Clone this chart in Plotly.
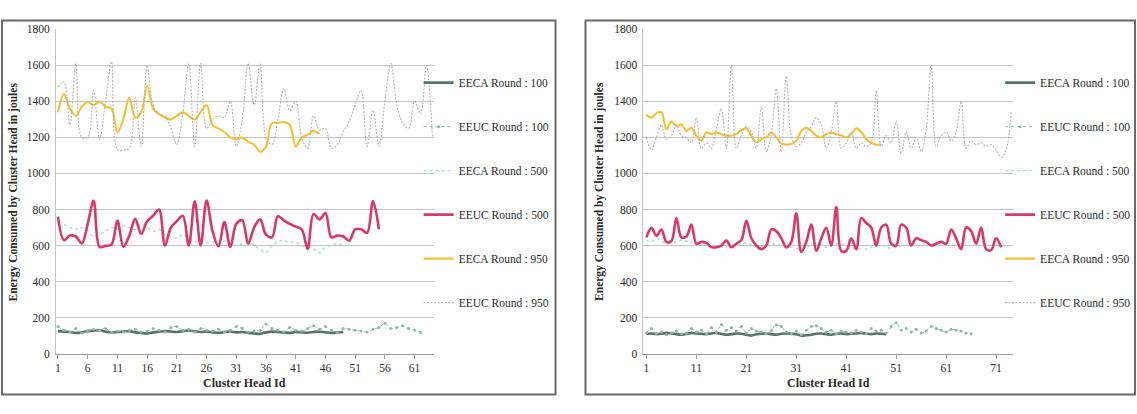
import plotly.graph_objects as go

# ---------------- data ----------------
series_names = ["EECA Round : 100", "EEUC Round : 100", "EECA Round : 500",
                "EEUC Round : 500", "EECA Round : 950", "EEUC Round : 950"]

# Left chart
left_eeca_100 = [125, 122, 120, 115, 118, 125, 128, 130, 122, 118, 120, 123, 125, 118, 115, 112,
                 118, 122, 125, 123, 120, 125, 128, 124, 120, 122, 118, 115, 120, 123, 118, 120,
                 115, 112, 110, 118, 122, 120, 118, 115, 120, 118, 116, 120, 122, 118, 115, 118, 120]
left_eeuc_100 = [150, 130, 120, 140, 115, 125, 135, 130, 140, 118, 125, 120, 130, 135, 120, 125,
                 140, 130, 120, 145, 150, 130, 135, 120, 140, 130, 125, 135, 120, 130, 150, 140,
                 120, 125, 130, 165, 140, 130, 120, 145, 130, 125, 140, 155, 135, 150, 130, 120,
                 140, 135, 130, 125, 120, 135, 145, 168, 140, 145, 155, 140, 130, 118]
left_eeca_500 = [720, 715, 700, 690, 700, 680, 650, 660, 680, 700, 690, 710, 700, 690, 720, 700,
                 680, 690, 660, 650, 640, 660, 640, 620, 630, 615, 620, 610, 625, 605, 600, 610,
                 620, 600, 580, 560, 600, 620, 630, 615, 620, 600, 590, 580, 560, 590, 600, 610, 600]
left_eeuc_500 = [760, 630, 655, 650, 612, 720, 848, 592, 598, 605, 738, 593, 655, 748, 665, 735,
                 765, 800, 600, 700, 735, 765, 600, 845, 600, 850, 680, 595, 730, 592, 720, 740,
                 610, 700, 745, 660, 645, 762, 740, 720, 705, 690, 582, 775, 745, 780, 645, 655,
                 650, 627, 690, 690, 670, 845, 690]
left_eeca_950 = [1340, 1440, 1360, 1320, 1370, 1395, 1380, 1400, 1370, 1360, 1230, 1300, 1420, 1310,
                 1340, 1485, 1360, 1330, 1310, 1300, 1320, 1340, 1320, 1300, 1340, 1380, 1270, 1250,
                 1230, 1200, 1190, 1200, 1175, 1160, 1120, 1150, 1280, 1280, 1285, 1270, 1150, 1200,
                 1215, 1235, 1220]
left_eeuc_950 = [1480, 1510, 1270, 1610, 1200, 1200, 1460, 1190, 1400, 1620, 1130, 1130, 1140, 1420,
                 1150, 1600, 1380, 1330, 1320, 1250, 1160, 1330, 1610, 1150, 1610, 1250, 1300, 1320,
                 1310, 1400, 1150, 1300, 1610, 1380, 1610, 1200, 1160, 1300, 1470, 1350, 1400, 1200,
                 1140, 1320, 1240, 1250, 1140, 1160, 1230, 1290, 1380, 1460, 1150, 1350, 1150, 1400,
                 1610, 1380, 1280, 1250, 1400, 1330, 1600, 1200]

# Right chart
right_eeca_100 = [110, 112, 108, 110, 115, 112, 108, 105, 110, 115, 112, 110, 108, 112, 115, 110,
                  105, 108, 112, 110, 105, 100, 108, 110, 112, 108, 105, 110, 112, 110, 108, 100,
                  102, 105, 110, 112, 108, 105, 110, 112, 108, 110, 112, 115, 110, 108, 112, 110, 108]
right_eeuc_100 = [115, 140, 110, 120, 105, 115, 125, 110, 115, 140, 120, 130, 110, 145, 120, 162,
                  130, 145, 125, 150, 115, 140, 125, 120, 110, 130, 160, 150, 120, 110, 125, 105,
                  130, 150, 155, 140, 120, 130, 110, 125, 120, 115, 130, 120, 110, 140, 125, 130,
                  115, 150, 172, 130, 140, 120, 135, 115, 125, 150, 140, 130, 120, 135, 130, 125,
                  115, 110]
right_eeca_500 = [630, 620, 640, 625, 610, 615, 620, 630, 625, 615, 610, 605, 600, 600, 595, 590,
                  600, 605, 600, 610, 615, 605, 600, 595, 600, 610, 605, 600, 590, 590, 585, 580,
                  590, 600, 610, 600, 590, 600, 610, 605, 600, 590, 580, 585, 580, 590, 595, 600,
                  590, 585, 590, 600]
right_eeuc_500 = [645, 698, 654, 689, 620, 625, 752, 645, 650, 716, 609, 620, 615, 591, 590, 600,
                  627, 590, 610, 630, 737, 640, 600, 580, 600, 690, 680, 640, 590, 620, 779, 564,
                  620, 716, 570, 640, 698, 600, 814, 570, 570, 640, 580, 752, 725, 700, 600, 700,
                  716, 610, 600, 716, 700, 600, 640, 630, 620, 600, 610, 620, 610, 689, 640, 580,
                  700, 680, 610, 700, 580, 575, 640, 590]
right_eeca_950 = [1326, 1310, 1335, 1340, 1245, 1290, 1263, 1272, 1236, 1254, 1210, 1182, 1227, 1218,
                  1227, 1218, 1210, 1209, 1220, 1240, 1250, 1209, 1173, 1190, 1200, 1227, 1200, 1165,
                  1160, 1164, 1182, 1236, 1254, 1236, 1210, 1200, 1218, 1227, 1218, 1210, 1200, 1218,
                  1250, 1230, 1190, 1170, 1160, 1160]
right_eeuc_950 = [1200, 1130, 1200, 1270, 1190, 1210, 1270, 1210, 1200, 1170, 1310, 1140, 1170, 1140,
                  1250, 1360, 1140, 1596, 1140, 1210, 1260, 1230, 1140, 1370, 1120, 1220, 1470, 1120,
                  1540, 1210, 1150, 1170, 1230, 1260, 1310, 1270, 1140, 1230, 1400, 1140, 1170, 1230,
                  1140, 1170, 1150, 1170, 1460, 1150, 1210, 1170, 1290, 1110, 1230, 1140, 1200, 1120,
                  1250, 1605, 1150, 1210, 1230, 1180, 1230, 1400, 1140, 1180, 1160, 1170, 1150, 1160,
                  1130, 1090, 1130, 1345]

left_ticks = [1, 6, 11, 16, 21, 26, 31, 36, 41, 46, 51, 56, 61]
right_ticks = [1, 11, 21, 31, 41, 51, 61, 71]
y_ticks = [0, 200, 400, 600, 800, 1000, 1200, 1400, 1600, 1800]

# ---------------- styles ----------------
W, H = 1137, 414
FONT = "Liberation Serif"
styles = [
    dict(color="#56746c", width=2.6, dash="solid", markers=False),
    dict(color="#93b3a9", width=1.0, dash="dot", markers=True),
    dict(color="#a9ddd5", width=1.4, dash="dot", markers=False),
    dict(color="#d8386a", width=2.6, dash="solid", markers=False),
    dict(color="#f1c232", width=2.1, dash="solid", markers=False),
    dict(color="#b3b3b3", width=1.1, dash="2px,1.5px", markers=False),
]

left_data = [left_eeca_100, left_eeuc_100, left_eeca_500, left_eeuc_500, left_eeca_950, left_eeuc_950]
right_data = [right_eeca_100, right_eeuc_100, right_eeca_500, right_eeuc_500, right_eeca_950, right_eeuc_950]

fig = go.Figure()

def add_panel(data, xa, ya, legend_name):
    for k, (name, vals) in enumerate(zip(series_names, data)):
        st = styles[k]
        fig.add_trace(go.Scatter(
            x=list(range(1, len(vals) + 1)), y=vals, name=name,
            mode="lines+markers" if st["markers"] else "lines",
            line=dict(color=st["color"], width=st["width"], dash=st["dash"],
                      shape="spline", smoothing=1.0),
            marker=dict(size=3, color=st["color"]),
            xaxis=xa, yaxis=ya, legend=legend_name,
            legendgroup=legend_name + str(k), showlegend=True,
        ))

add_panel(left_data, "x", "y", "legend")
add_panel(right_data, "x2", "y2", "legend2")

def px_x(p):
    return p / W

def px_y(p):
    return 1 - p / H

ydom = [px_y(358), px_y(24)]
axis_font = dict(family=FONT, size=11.5, color="#2b2b2b")

common_x = dict(showgrid=False, showline=True, linecolor="#9a9a9a", linewidth=1,
                ticks="outside", ticklen=4, tickcolor="#9a9a9a", tickfont=axis_font,
                zeroline=False)
common_y = dict(range=[0, 1800], tickvals=y_ticks, showgrid=True, gridcolor="#c4c4c4",
                gridwidth=1.2, showline=True, linecolor="#c4c4c4", linewidth=1,
                ticks="outside", ticklen=3, tickcolor="rgba(0,0,0,0)", tickfont=axis_font,
                zeroline=False, domain=ydom)

legend_font = dict(family=FONT, size=11.5, color="#2b2b2b")
fig.update_layout(
    width=W, height=H, margin=dict(l=0, r=0, t=0, b=0),
    paper_bgcolor="white", plot_bgcolor="white",
    font=dict(family=FONT, color="#333333"),
    xaxis=dict(domain=[px_x(55), px_x(433)], range=[0.66, 64.2], tickvals=left_ticks,
               anchor="y", **common_x),
    yaxis=dict(anchor="x", **common_y),
    xaxis2=dict(domain=[px_x(643), px_x(1013)], range=[0.4, 74.4], tickvals=right_ticks,
                anchor="y2", **common_x),
    yaxis2=dict(anchor="x2", **common_y),
    legend=dict(x=px_x(418), y=px_y(64), xanchor="left", yanchor="top",
                bgcolor="rgba(0,0,0,0)", font=legend_font,
                tracegroupgap=25, itemwidth=30),
    legend2=dict(x=px_x(1000), y=px_y(64), xanchor="left", yanchor="top",
                 bgcolor="rgba(0,0,0,0)", font=legend_font,
                 tracegroupgap=25, itemwidth=30),
    showlegend=True,
)

# panel frames
for x0, x1 in [(1, 555), (585, 1135)]:
    fig.add_shape(type="rect", xref="paper", yref="paper",
                  x0=px_x(x0), x1=px_x(x1), y0=px_y(400), y1=px_y(15),
                  line=dict(color="#6a6a6a", width=2), layer="below")

# axis titles
for cx, tx in [(244, 12), (828, 599)]:
    fig.add_annotation(text="<b>Cluster Head Id</b>", xref="paper", yref="paper",
                       x=px_x(cx), y=px_y(388), showarrow=False,
                       font=dict(family=FONT, size=12, color="#2b2b2b"),
                       xanchor="center", yanchor="middle")
    fig.add_annotation(text="<b>Energy Consumed by Cluster Head in joules</b>", xref="paper",
                       yref="paper", x=px_x(tx), y=px_y(191), showarrow=False, textangle=-90,
                       font=dict(family=FONT, size=11.5, color="#2b2b2b"),
                       xanchor="center", yanchor="middle")

fig.write_html("out.html")
